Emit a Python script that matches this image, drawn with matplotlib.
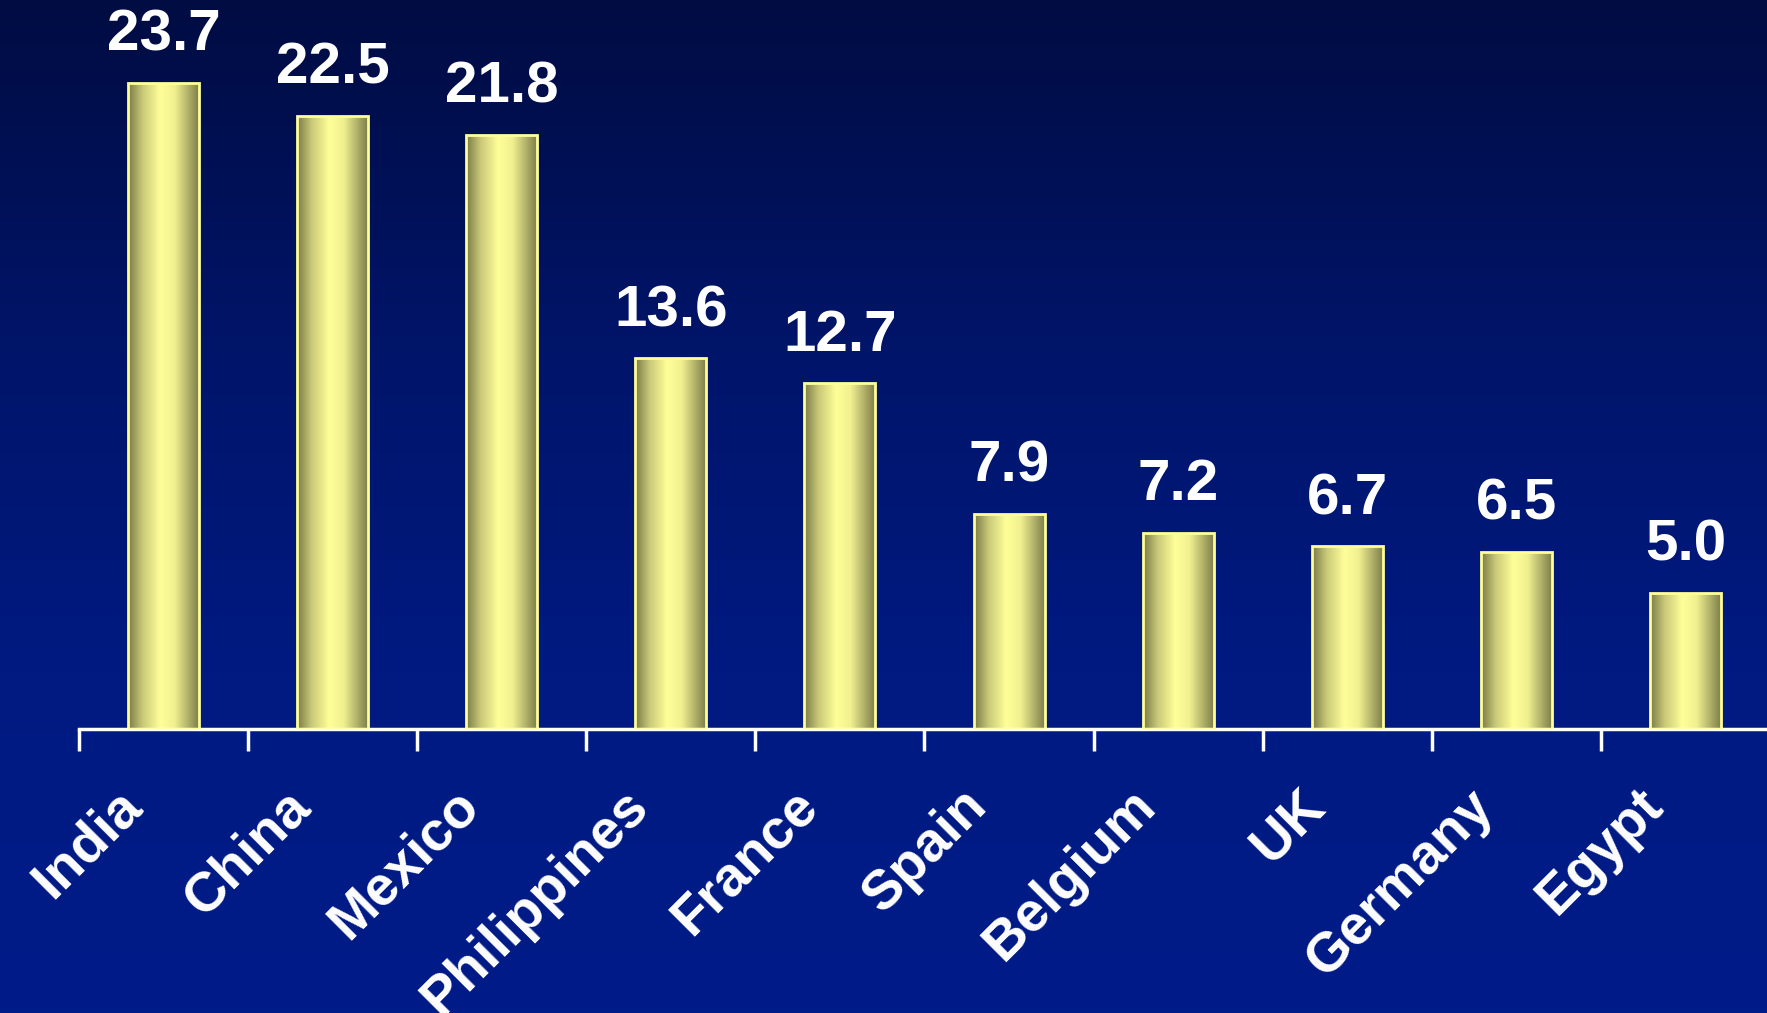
import matplotlib
matplotlib.use("Agg")
from matplotlib import pyplot as plt
from matplotlib.colors import LinearSegmentedColormap
import matplotlib.transforms as mtransforms
import numpy as np

countries = ["India", "China", "Mexico", "Philippines", "France",
             "Spain", "Belgium", "UK", "Germany", "Egypt"]
values = [23.7, 22.5, 21.8, 13.6, 12.7, 7.9, 7.2, 6.7, 6.5, 5.0]

plt.rcParams['font.family'] = ['Liberation Sans', 'DejaVu Sans']

fig = plt.figure(figsize=(17.67, 10.13), dpi=100)

# background gradient, dark navy at top to brighter blue at bottom
bg = fig.add_axes([0, 0, 1, 1], zorder=-10)
bg_cmap = LinearSegmentedColormap.from_list("bg", ["#000c42", "#001468", "#001a82", "#001c88"])
bg.imshow(np.linspace(0, 1, 256).reshape(-1, 1), aspect="auto", cmap=bg_cmap,
          extent=[0, 1, 0, 1], origin="upper")
bg.axis("off")

ax = fig.add_axes([0.0447, 0.2804, 0.957, 0.7196])
ax.patch.set_alpha(0)

x = np.arange(len(countries))
w = 0.42
bars = ax.bar(x, values, width=w, facecolor="none", edgecolor="#ffff99",
              linewidth=2, zorder=3)

# cylinder-like shading across each bar
bar_cmap = LinearSegmentedColormap.from_list(
    "bar", [(0, "#7a7a48"), (0.2, "#c8c878"), (0.45, "#ffff99"),
            (0.65, "#f0f090"), (1, "#7a7a48")])
grad = np.linspace(0, 1, 256).reshape(1, -1)
for b in bars:
    x0, y0 = b.get_x(), b.get_y()
    im = ax.imshow(grad, aspect="auto", cmap=bar_cmap,
                   extent=[x0, x0 + b.get_width(), y0, y0 + b.get_height()],
                   zorder=2)
    im.set_clip_path(b)

ax.set_xlim(-0.5, 9.5)
ax.set_ylim(0, 26.76)

for i, v in enumerate(values):
    ax.text(i, v + 0.75, f"{v:.1f}", ha="center", va="bottom", color="white",
            fontsize=42, fontweight="bold")

trans = mtransforms.blended_transform_factory(ax.transData, ax.transAxes)
for i, c in enumerate(countries):
    ax.text(i - 0.18, -0.095, c, transform=trans, rotation=45,
            rotation_mode="anchor", ha="right", va="center", color="white",
            fontsize=40, fontweight="bold")

for s in ["top", "right", "left"]:
    ax.spines[s].set_visible(False)
ax.spines["bottom"].set_color("white")
ax.spines["bottom"].set_linewidth(2.5)
ax.set_xticks(np.arange(-0.5, 9.5, 1))
ax.set_xticklabels([])
ax.tick_params(axis="x", direction="out", length=16, width=2.5, color="white")
ax.set_yticks([])

fig.savefig("out.png", dpi=100)
